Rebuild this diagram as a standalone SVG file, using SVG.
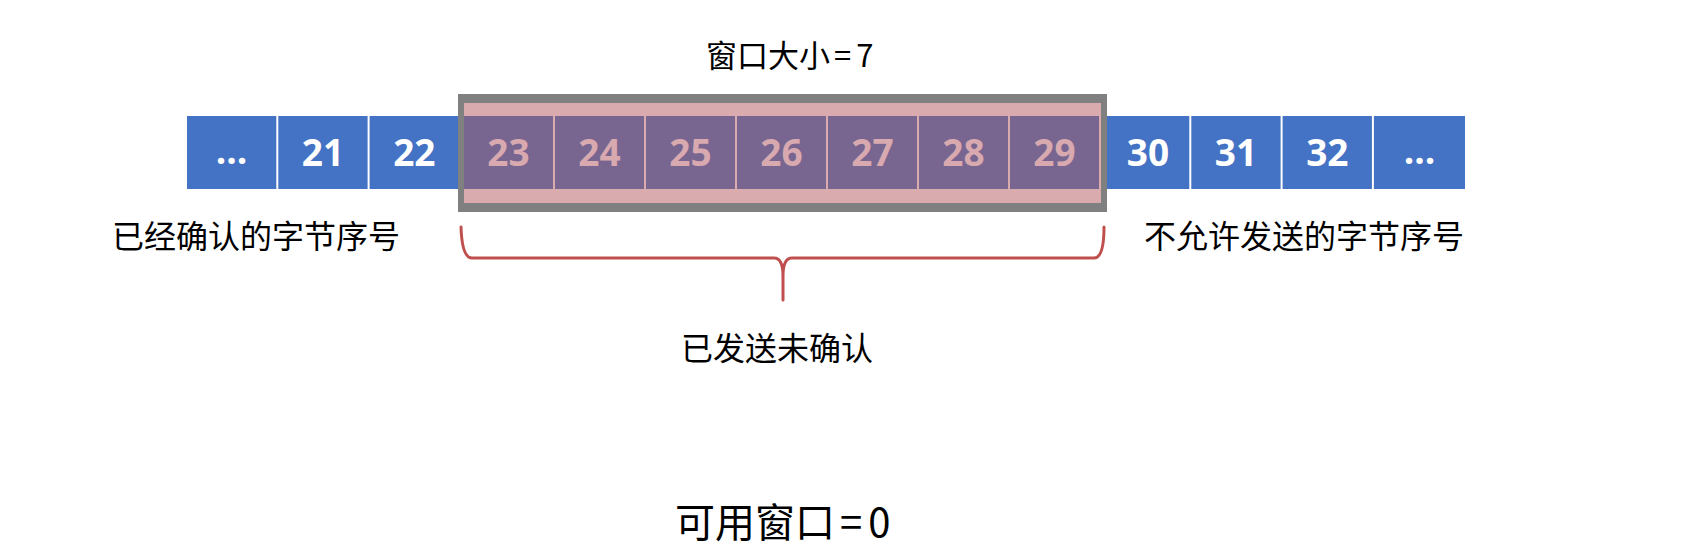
<svg xmlns="http://www.w3.org/2000/svg" width="1688" height="558" viewBox="0 0 1688 558">
<style>
.blue{fill:#4472C4}
.purple{fill:#786690}
.num{font-family:"Open Sans","Liberation Sans",sans-serif;font-weight:bold;font-size:37px;text-anchor:middle;fill:#FFFFFF}
.pnum{fill:#D8A9AF}
.lbl{font-family:"Noto Sans CJK SC","Noto Sans",sans-serif;font-size:32px;fill:#000000}
.mid{text-anchor:middle}
.brace{fill:none;stroke:#C0504D;stroke-width:3;stroke-linecap:round;stroke-linejoin:round}
</style>
<rect width="1688" height="558" fill="#FFFFFF"/>
<g id="cell-left-dots"><rect class="blue" x="187" y="116" width="89.3" height="73"/><text class="num" x="231.6" y="164">...</text></g>
<g id="cell-21"><rect class="blue" x="278.3" y="116" width="89.3" height="73"/><text class="num" x="323" y="166">21</text></g>
<g id="cell-22"><rect class="blue" x="369.6" y="116" width="89.3" height="73"/><text class="num" x="414.3" y="166">22</text></g>
<g id="cell-30"><rect class="blue" x="1100" y="116" width="89.3" height="73"/><text class="num" x="1148" y="166">30</text></g>
<g id="cell-31"><rect class="blue" x="1191.3" y="116" width="89.3" height="73"/><text class="num" x="1236" y="166">31</text></g>
<g id="cell-32"><rect class="blue" x="1282.6" y="116" width="89.3" height="73"/><text class="num" x="1327.3" y="166">32</text></g>
<g id="cell-right-dots"><rect class="blue" x="1373.9" y="116" width="91.1" height="73"/><text class="num" x="1419.5" y="164">...</text></g>
<g id="window">
<rect x="458" y="94" width="649" height="118" fill="#808080"/>
<rect x="464" y="103" width="637" height="100" fill="#D9AAAE"/>
<g id="cell-23"><rect class="purple" x="464" y="116" width="89" height="73"/><text class="num pnum" x="508.5" y="166">23</text></g>
<g id="cell-24"><rect class="purple" x="555" y="116" width="89" height="73"/><text class="num pnum" x="599.5" y="166">24</text></g>
<g id="cell-25"><rect class="purple" x="646" y="116" width="89" height="73"/><text class="num pnum" x="690.5" y="166">25</text></g>
<g id="cell-26"><rect class="purple" x="737" y="116" width="89" height="73"/><text class="num pnum" x="781.5" y="166">26</text></g>
<g id="cell-27"><rect class="purple" x="828" y="116" width="89" height="73"/><text class="num pnum" x="872.5" y="166">27</text></g>
<g id="cell-28"><rect class="purple" x="919" y="116" width="89" height="73"/><text class="num pnum" x="963.5" y="166">28</text></g>
<g id="cell-29"><rect class="purple" x="1010" y="116" width="89" height="73"/><text class="num pnum" x="1054.5" y="166">29</text></g>
</g>
<g id="label-window-size"><text class="lbl" x="706" y="67" style="font-size:31px">窗口大小<tspan dx="4">=</tspan><tspan dx="5">7</tspan></text></g>
<g id="label-acked"><text class="lbl mid" x="256" y="248">已经确认的字节序号</text></g>
<g id="label-not-allowed"><text class="lbl mid" x="1304" y="248">不允许发送的字节序号</text></g>
<g id="connectors">
<path class="brace" d="M461,227 Q462,258 472,258 H774 Q783,258 783,276 V300 M783,276 Q783,258 792,258 H1094 Q1104,258 1104,227"/>
</g>
<g id="label-sent-unacked"><text class="lbl mid" x="777" y="360">已发送未确认</text></g>
<g id="label-usable"><text class="lbl" x="675" y="537" style="font-size:40px">可用窗口<tspan dx="5">=</tspan><tspan dx="6">0</tspan></text></g>
</svg>
